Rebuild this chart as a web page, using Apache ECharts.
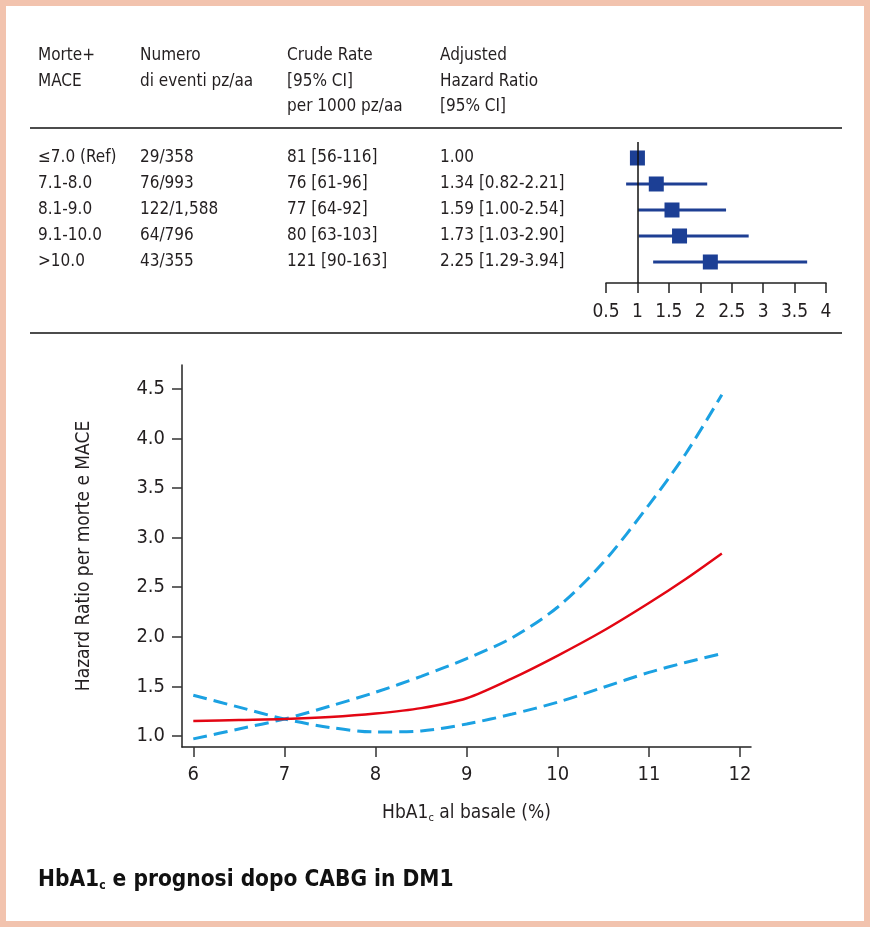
<!DOCTYPE html>
<html>
<head>
<meta charset="utf-8">
<script src="https://cdn.jsdelivr.net/npm/echarts@6/dist/echarts.min.js"></script>
<style>
html,body{margin:0;padding:0;background:#fff;}
#c{width:870px;height:927px;}
</style>
</head>
<body>
<div id="c"></div>
<script>
// ---- Table data ----
const headerCols = [
  ['Morte+', 'MACE'],
  ['Numero', 'di eventi pz/aa'],
  ['Crude Rate', '[95% CI]', 'per 1000 pz/aa'],
  ['Adjusted', 'Hazard Ratio', '[95% CI]']
];
const groups   = ['≤7.0 (Ref)', '7.1-8.0', '8.1-9.0', '9.1-10.0', '>10.0'];
const events   = ['29/358', '76/993', '122/1,588', '64/796', '43/355'];
const crude    = ['81 [56-116]', '76 [61-96]', '77 [64-92]', '80 [63-103]', '121 [90-163]'];
const adjHR    = ['1.00', '1.34 [0.82-2.21]', '1.59 [1.00-2.54]', '1.73 [1.03-2.90]', '2.25 [1.29-3.94]'];

// ---- Forest plot data ----
const hrPoint = [1.00, 1.30, 1.55, 1.67, 2.16];
const hrLow   = [1.00, 0.82, 1.01, 1.02, 1.25];
const hrHigh  = [1.00, 2.11, 2.41, 2.77, 3.70];
const forestTicks = [0.5, 1, 1.5, 2, 2.5, 3, 3.5, 4];

// ---- Spline curve data ----
const hba1c   = [6, 6.5, 7, 7.5, 8, 8.5, 9, 9.5, 10, 10.5, 11, 11.4, 11.8];
const hrFit   = [1.15, 1.16, 1.17, 1.19, 1.225, 1.28, 1.38, 1.58, 1.81, 2.06, 2.34, 2.58, 2.84];
const ciUpper = [0.97, 1.07, 1.17, 1.30, 1.44, 1.60, 1.78, 1.99, 2.30, 2.75, 3.33, 3.84, 4.44];
const ciLower = [1.41, 1.29, 1.17, 1.085, 1.04, 1.05, 1.12, 1.22, 1.34, 1.49, 1.64, 1.74, 1.83];
const xTicks = [6, 7, 8, 9, 10, 11, 12];
const yTicks = [1.0, 1.5, 2.0, 2.5, 3.0, 3.5, 4.0, 4.5];

const FONT = '"Liberation Sans Narrow", "DejaVu Sans Condensed", "Roboto", sans-serif';
const TXT = '#231f20';
const colX = [38, 140, 287, 440];

const chart = echarts.init(document.getElementById('c'), null, {renderer: 'canvas'});

const graphics = [];
// border
graphics.push({type: 'rect', shape: {x: 3, y: 3, width: 864, height: 921}, style: {fill: 'none', stroke: '#f2c3ae', lineWidth: 6}, silent: true});
// header
headerCols.forEach((lines, ci) => {
  lines.forEach((t, li) => {
    graphics.push({type: 'text', x: colX[ci], y: 56 + li * 25.5, style: {text: t, font: '17px ' + FONT, fill: TXT, textVerticalAlign: 'middle'}});
  });
});
// rules
graphics.push({type: 'line', shape: {x1: 30, y1: 128, x2: 842, y2: 128}, style: {stroke: '#111', lineWidth: 1.5}});
graphics.push({type: 'line', shape: {x1: 30, y1: 333, x2: 842, y2: 333}, style: {stroke: '#111', lineWidth: 1.5}});
// rows
[groups, events, crude, adjHR].forEach((col, ci) => {
  col.forEach((t, ri) => {
    graphics.push({type: 'text', x: colX[ci], y: 158 + ri * 26, style: {text: t, font: '17px ' + FONT, fill: TXT, textVerticalAlign: 'middle'}});
  });
});
// title
graphics.push({type: 'text', x: 38, y: 880, style: {
  text: '{a|HbA1}{s|c}{a| e prognosi dopo CABG in DM1}',
  textVerticalAlign: 'middle',
  rich: {
    a: {font: 'bold 22.5px ' + FONT, fill: '#111'},
    s: {font: 'bold 12px ' + FONT, fill: '#111', padding: [12, 0, 0, 0]}
  }
}});

const forestIdx = hrPoint.map((v, i) => i);

chart.setOption({
  animation: false,
  graphic: graphics,
  grid: [
    {left: 606, top: 142, width: 220, height: 141},
    {left: 182, top: 365, width: 569, height: 382}
  ],
  xAxis: [
    {
      gridIndex: 0, type: 'value', min: 0.5, max: 4, interval: 0.5, position: 'bottom',
      axisLine: {show: true, onZero: false, lineStyle: {color: '#222', width: 1.5}},
      axisTick: {show: true, length: 10, lineStyle: {color: '#222', width: 1.5}},
      axisLabel: {color: TXT, fontSize: 19, fontFamily: FONT, margin: 20, formatter: v => String(v)},
      splitLine: {show: false}
    },
    {
      gridIndex: 1, type: 'value', min: 5.876, max: 12.12, position: 'bottom',
      axisLine: {show: true, onZero: false, lineStyle: {color: '#222', width: 1.5}},
      axisTick: {show: true, length: 10, customValues: xTicks, lineStyle: {color: '#333', width: 1.5}},
      axisLabel: {color: TXT, fontSize: 20, fontFamily: FONT, margin: 18, customValues: xTicks, formatter: v => String(v)},
      splitLine: {show: false},
      name: '{a|HbA1}{s|c}{a| al basale (%)}',
      nameLocation: 'middle', nameGap: 56,
      nameTextStyle: {
        rich: {
          a: {fontSize: 19, fontFamily: FONT, color: TXT},
          s: {fontSize: 11, fontFamily: FONT, color: TXT, padding: [10, 0, 0, 0]}
        }
      }
    }
  ],
  yAxis: [
    {
      gridIndex: 0, type: 'value', inverse: true, min: -0.615, max: 4.808,
      show: false
    },
    {
      gridIndex: 1, type: 'value', min: 0.888, max: 4.74,
      axisLine: {show: true, onZero: false, lineStyle: {color: '#222', width: 1.5}},
      axisTick: {show: true, length: 10, customValues: yTicks, lineStyle: {color: '#333', width: 1.5}},
      axisLabel: {color: TXT, fontSize: 20, fontFamily: FONT, margin: 17, customValues: yTicks, formatter: v => v.toFixed(1)},
      splitLine: {show: false},
      name: 'Hazard Ratio per morte e MACE',
      nameLocation: 'middle', nameGap: 88, nameRotate: 90,
      nameTextStyle: {fontSize: 19, fontFamily: FONT, color: TXT}
    }
  ],
  series: [
    {
      type: 'custom', xAxisIndex: 0, yAxisIndex: 0,
      data: forestIdx.map(i => [hrLow[i], hrHigh[i], i]),
      encode: {x: [0, 1], y: 2},
      renderItem: (params, api) => {
        const a = api.coord([api.value(0), api.value(2)]);
        const b = api.coord([api.value(1), api.value(2)]);
        return {type: 'line', shape: {x1: a[0], y1: a[1], x2: b[0], y2: b[1]}, style: {stroke: '#1e3f93', lineWidth: 3}};
      },
      z: 2
    },
    {
      type: 'scatter', xAxisIndex: 0, yAxisIndex: 0,
      data: forestIdx.map(i => [hrPoint[i], i]),
      symbol: 'rect', symbolSize: 15,
      itemStyle: {color: '#1c3f95', opacity: 1},
      z: 3,
      markLine: {
        silent: true, symbol: 'none', label: {show: false},
        lineStyle: {color: '#111', width: 1.5, type: 'solid'},
        data: [{xAxis: 1}]
      }
    },
    {
      type: 'line', xAxisIndex: 1, yAxisIndex: 1,
      data: hba1c.map((x, i) => [x, ciUpper[i]]),
      smooth: 0.3, showSymbol: false,
      lineStyle: {color: '#1ba1e2', width: 3, type: [14, 7]}
    },
    {
      type: 'line', xAxisIndex: 1, yAxisIndex: 1,
      data: hba1c.map((x, i) => [x, ciLower[i]]),
      smooth: 0.3, showSymbol: false,
      lineStyle: {color: '#1ba1e2', width: 3, type: [14, 7]}
    },
    {
      type: 'line', xAxisIndex: 1, yAxisIndex: 1,
      data: hba1c.map((x, i) => [x, hrFit[i]]),
      smooth: 0.3, showSymbol: false,
      lineStyle: {color: '#e30613', width: 2.5}
    }
  ]
});
</script>
</body>
</html>
